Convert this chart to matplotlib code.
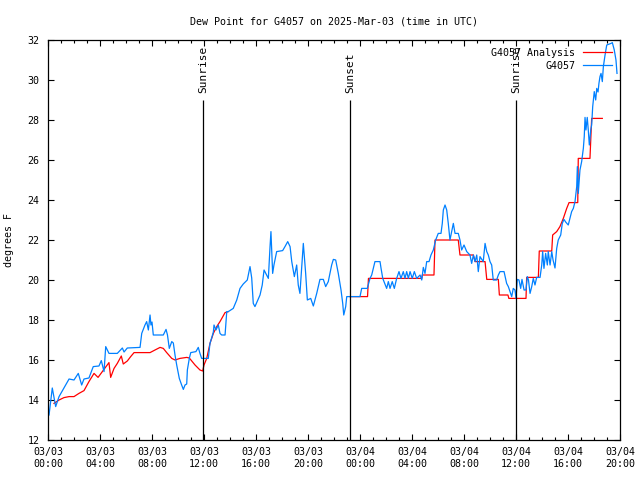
import numpy as np
import matplotlib
matplotlib.use("Agg")
import matplotlib.pyplot as plt

# ---- data (hours since 2025-03-03 00:00 UTC, dew point in F) ----
obs_hours = [0.08, 0.33, 0.59, 0.85, 1.23, 1.62, 2.0, 2.33, 2.59, 2.77, 3.15, 3.48, 3.92, 4.1, 4.31,
             4.44, 4.69, 5.33, 5.72, 5.85, 6.1, 7.08, 7.21, 7.46, 7.59, 7.72, 7.85, 7.92, 8.0, 8.1,
             8.87, 9.08, 9.19, 9.33, 9.52, 9.64, 9.77, 9.9, 10.1, 10.28, 10.41, 10.54, 10.67, 10.72,
             10.87, 10.98, 11.38, 11.56, 11.69, 11.82, 12.33, 12.46, 12.59, 12.72, 12.77, 12.92, 13.1,
             13.23, 13.36, 13.62, 13.75, 13.87, 14.25, 14.52, 14.77, 15.02, 15.33, 15.54, 15.67, 15.79,
             15.92, 16.31, 16.48, 16.62, 16.82, 16.95, 17.08, 17.15, 17.28, 17.38, 17.59, 18.05, 18.23,
             18.44, 18.62, 18.75, 18.95, 19.13, 19.25, 19.38, 19.64, 19.82, 19.95, 20.21, 20.41, 20.67,
             20.92, 21.18, 21.36, 21.56, 21.82, 21.95, 22.13, 22.33, 22.54, 22.67, 22.75, 22.9, 22.98,
             24.0, 24.13, 24.56, 24.77, 24.9, 25.02, 25.15, 25.54, 25.62, 25.75, 26.05, 26.18, 26.31,
             26.48, 26.64, 26.82, 27.0, 27.15, 27.33, 27.46, 27.59, 27.72, 27.85, 28.02, 28.18, 28.36,
             28.62, 28.75, 28.87, 29.0, 29.13, 29.31, 29.46, 29.64, 29.82, 30.02, 30.23, 30.33, 30.41,
             30.54, 30.67, 30.79, 30.92, 31.05, 31.18, 31.31, 31.56, 31.69, 31.82, 32.0, 32.21, 32.46,
             32.59, 32.72, 32.85, 32.98, 33.1, 33.23, 33.48, 33.62, 33.75, 33.87, 34.0, 34.13, 34.25,
             34.51, 34.64, 34.77, 35.08, 35.28, 35.41, 35.67, 35.79, 35.92, 36.0, 36.1, 36.23, 36.36,
             36.46, 36.62, 36.77, 36.87, 36.96, 37.08, 37.21, 37.33, 37.46, 37.59, 37.85, 37.98, 38.05,
             38.15, 38.28, 38.41, 38.48, 38.62, 38.75, 38.85, 39.0, 39.13, 39.25, 39.44, 39.56, 39.69,
             39.82, 40.02, 40.15, 40.28, 40.41, 40.54, 40.67, 40.72, 40.79, 40.92, 41.05, 41.18, 41.25,
             41.31, 41.38, 41.48, 41.56, 41.64, 41.75, 41.82, 41.9, 42.02, 42.13, 42.21, 42.31, 42.38,
             42.46, 42.54, 42.64, 42.72, 42.85, 42.98, 43.31, 43.41, 43.56, 43.69, 43.77]
obs_dewpt = [13.25, 14.6, 13.67, 14.17, 14.6, 15.05, 15.0, 15.33, 14.75, 15.05, 15.1, 15.67, 15.7, 15.97, 15.42,
             16.67, 16.33, 16.33, 16.6, 16.4, 16.6, 16.63, 17.33, 17.75, 17.92, 17.5, 18.25, 17.75, 17.9, 17.25,
             17.25, 17.53, 17.25, 16.58, 16.92, 16.85, 16.25, 15.75, 15.08, 14.75, 14.53, 14.75, 14.8, 15.5,
             16.08, 16.37, 16.42, 16.63, 16.33, 16.08, 16.08, 16.83, 17.1, 17.4, 17.75, 17.5, 17.75,
             17.33, 17.25, 17.25, 18.42, 18.42, 18.58, 19.0, 19.58, 19.8, 20.0, 20.67, 20.1, 18.83,
             18.67, 19.25, 19.75, 20.5, 20.25, 20.08, 21.67, 22.42, 20.33, 20.75, 21.42, 21.47, 21.67,
             21.92, 21.67, 20.92, 20.17, 20.75, 19.75, 19.33, 21.83, 20.33, 19.0, 19.08, 18.7, 19.33,
             20.03, 20.03, 19.67, 19.92, 20.75, 21.03, 21.0, 20.33, 19.5, 18.83, 18.25, 18.67, 19.17,
             19.17, 19.58, 19.58, 20.08, 20.25, 20.58, 20.92, 20.92, 20.58, 20.08, 19.58, 19.92, 19.58,
             19.92, 19.58, 20.08, 20.42, 20.08, 20.42, 20.08, 20.42, 20.08, 20.42, 20.08, 20.42, 20.08,
             20.25, 20.0, 20.63, 20.33, 20.92, 20.92, 21.25, 21.5, 22.0, 22.33, 22.33, 22.83, 23.5,
             23.75, 23.5, 22.83, 22.0, 22.42, 22.83, 22.33, 22.33, 22.0, 21.5, 21.75, 21.42, 21.25,
             20.83, 21.25, 20.92, 21.25, 20.42, 21.17, 20.92, 21.83, 21.42, 21.25, 20.92, 20.75, 20.0,
             20.0, 20.25, 20.42, 20.42, 19.83, 19.67, 19.17, 19.58, 19.5, 19.08, 20.03, 20.0, 19.58,
             20.03, 19.5, 19.5, 20.17, 20.0, 19.33, 19.67, 20.08, 19.75, 20.13, 20.13, 20.75, 21.42,
             20.58, 21.33, 20.75, 21.42, 20.75, 21.42, 21.0, 20.6, 21.58, 22.0, 22.25, 22.83, 23.03,
             22.9, 22.75, 23.08, 23.42, 23.58, 23.92, 24.67, 25.67, 24.33, 25.5, 25.92, 26.58, 27.17,
             28.13, 27.5, 28.13, 27.5, 26.75, 27.5, 27.75, 28.67, 29.42, 29.0, 29.58, 29.4, 29.83,
             30.17, 30.33, 29.92, 30.67, 31.25, 31.75, 31.83, 31.87, 31.5, 31.0, 30.33]

anl_hours = [0.46, 0.85, 1.23, 1.62, 2.0, 2.38, 2.77, 3.15, 3.54, 3.85, 4.18, 4.69, 4.82, 5.08, 5.33,
             5.64, 5.79, 6.1, 6.36, 6.62, 7.85, 8.23, 8.62, 8.87, 9.13, 9.52, 9.77, 10.15, 10.67,
             10.87, 11.31, 11.69, 11.9, 12.0, 12.21, 12.46, 12.72, 12.98, 13.23, 13.62, 13.87,
             np.nan,
             23.23, 24.58, 24.65, 28.75, 28.79, 29.69, 29.77, 31.56, 31.69, 32.72, 32.85, 33.62, 33.75,
             34.64, 34.72, 35.38, 35.45, 36.77, 36.82, 37.72, 37.79, 38.75, 38.82, 39.13, 39.38, 39.64,
             39.9, 40.08, 40.75, 40.79, 41.69, 41.82, 42.64]
anl_dewpt = [13.83, 14.0, 14.12, 14.17, 14.17, 14.33, 14.47, 14.92, 15.33, 15.13, 15.42, 15.87, 15.13, 15.58, 15.83,
             16.2, 15.8, 15.95, 16.17, 16.37, 16.37, 16.5, 16.63, 16.58, 16.37, 16.08, 16.0, 16.08, 16.13,
             16.1, 15.75, 15.5, 15.45, 15.75, 16.08, 16.83, 17.33, 17.67, 17.92, 18.37, 18.42,
             np.nan,
             19.17, 19.17, 20.08, 20.08, 20.25, 20.25, 22.0, 22.0, 21.25, 21.25, 20.92, 20.92, 20.03,
             20.03, 19.25, 19.25, 19.08, 19.08, 20.13, 20.13, 21.45, 21.45, 22.25, 22.42, 22.67, 23.08,
             23.58, 23.87, 23.87, 26.08, 26.08, 28.08, 28.08]

sun_event_hours = [11.92, 23.23, 36.0]
sun_event_names = ["Sunrise", "Sunset", "Sunrise"]

xtick_hours = [0, 4, 8, 12, 16, 20, 24, 28, 32, 36, 40, 44]
xtick_labels = ["03/03\n00:00", "03/03\n04:00", "03/03\n08:00", "03/03\n12:00", "03/03\n16:00",
                "03/03\n20:00", "03/04\n00:00", "03/04\n04:00", "03/04\n08:00", "03/04\n12:00",
                "03/04\n16:00", "03/04\n20:00"]

# ---- plotting ----
FONT = "DejaVu Sans Mono"
FS = 7.2
plt.rcParams["font.family"] = FONT
plt.rcParams["font.size"] = FS

fig = plt.figure(figsize=(6.4, 4.8), dpi=100)
ax = fig.add_axes([48 / 640, 40 / 480, 572 / 640, 400 / 480])

ax.plot(anl_hours, anl_dewpt, color="#ff0000", lw=0.9, label="G4057 Analysis")
ax.plot(obs_hours, obs_dewpt, color="#0080ff", lw=0.9, label="G4057")

for h, name in zip(sun_event_hours, sun_event_names):
    ax.vlines(h, 12, 29, color="black", lw=0.9)
    ax.text(h, 29.35, name, rotation=90, ha="center", va="bottom", fontsize=8)

ax.set_xlim(0, 44)
ax.set_ylim(12, 32)
ax.set_xticks(xtick_hours)
ax.set_xticklabels(xtick_labels)
ax.set_xticks(np.arange(0, 45, 1), minor=True)
ax.set_yticks(np.arange(12, 33, 2))
ax.tick_params(axis="both", which="both", direction="in", top=True, right=True,
               width=0.8, color="black")
ax.tick_params(axis="both", which="major", length=4.5)
ax.tick_params(axis="x", which="minor", length=2.5)
ax.tick_params(axis="x", which="major", pad=5)
ax.tick_params(axis="y", which="major", pad=6)
for s in ax.spines.values():
    s.set_linewidth(0.9)

ax.set_title("Dew Point for G4057 on 2025-Mar-03 (time in UTC)", fontsize=FS, pad=11)
ax.set_ylabel("degrees F", fontsize=FS, labelpad=10)

leg = ax.legend(loc="upper right", frameon=False, markerfirst=False, fontsize=FS,
                handlelength=2.9, handletextpad=0.8, labelspacing=0.3,
                borderaxespad=0.6, borderpad=0.2)

fig.savefig("out.png", dpi=100)
